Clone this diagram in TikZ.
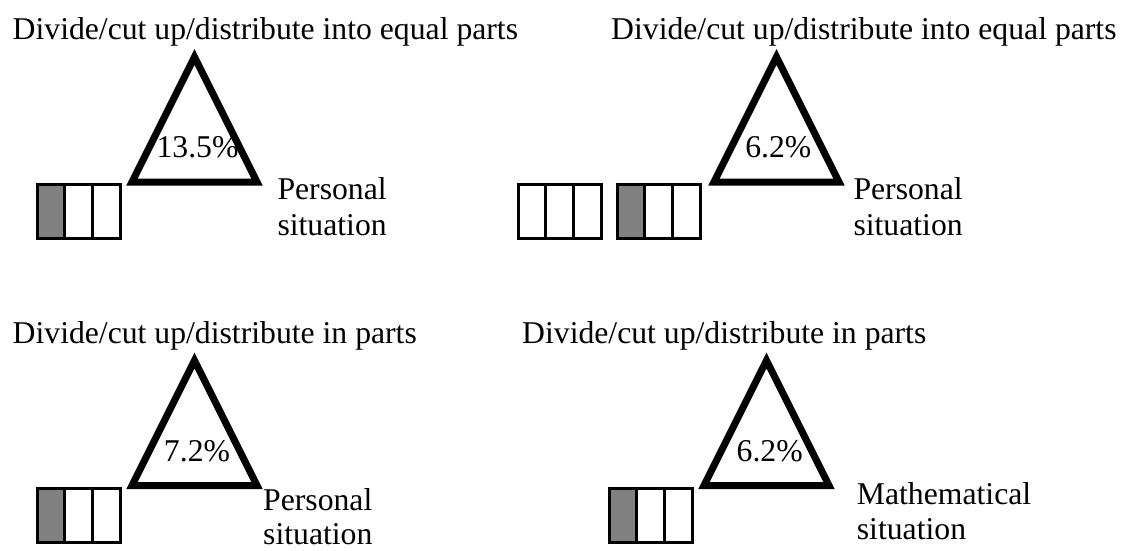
\documentclass[tikz,border=0pt]{standalone}
\usepackage{fontspec}
\setmainfont{Liberation Serif}
\definecolor{barfill}{HTML}{808080}
\begin{document}
\begin{tikzpicture}[x=1pt,y=-1pt,
  txt/.style={inner sep=0pt, anchor=base west, font=\fontsize{31.7}{35.7}\selectfont},
  pct/.style={inner sep=0pt, anchor=base, font=\fontsize{31.7}{35.7}\selectfont},
  tri/.pic={\draw[line width=7pt, line join=miter] (0,0) -- (62.5,125) -- (-62.5,125) -- cycle;},
  bar/.pic={\draw[line width=3pt] (0,0) rectangle (83,54)
      (27.67,0) -- (27.67,54) (55.33,0) -- (55.33,54);},
  shadedbar/.pic={\fill[barfill] (0,0) rectangle (27.67,54);
    \draw[line width=3pt] (0,0) rectangle (83,54)
      (27.67,0) -- (27.67,54) (55.33,0) -- (55.33,54);}
]
\useasboundingbox[fill=white] (0,0) rectangle (1121,551);

% top left
\node[txt] (t1) at (12.5,40) {Divide/cut up/distribute into equal parts};
\pic (tr1) at (194.5,57) {tri};
\pic (b1) at (37,184) {shadedbar};
\node[pct] (p1) at (197.5,157.3) {13.5\%};
\node[txt] (s1a) at (277.3,199.5) {Personal};
\node[txt] (s1b) at (277.3,235.2) {situation};

% top right
\node[txt] (t2) at (611,40) {Divide/cut up/distribute into equal parts};
\pic (tr2) at (776.5,57) {tri};
\pic (b2a) at (518,184) {bar};
\pic (b2b) at (617,184) {shadedbar};
\node[pct] (p2) at (778.3,157.3) {6.2\%};
\node[txt] (s2a) at (853.3,199.5) {Personal};
\node[txt] (s2b) at (853.3,235.2) {situation};

% bottom left
\node[txt] (t3) at (12.5,343.5) {Divide/cut up/distribute in parts};
\pic (tr3) at (194.5,360.5) {tri};
\pic (b3) at (37,488) {shadedbar};
\node[pct] (p3) at (197,461.7) {7.2\%};
\node[txt] (s3a) at (263,510.5) {Personal};
\node[txt] (s3b) at (263,544.5) {situation};

% bottom right
\node[txt] (t4) at (522,343.5) {Divide/cut up/distribute in parts};
\pic (tr4) at (766.5,360.5) {tri};
\pic (b4) at (609,488) {shadedbar};
\node[pct] (p4) at (769.7,461.7) {6.2\%};
\node[txt] (s4a) at (856.7,504) {Mathematical};
\node[txt] (s4b) at (856.7,539.7) {situation};
\end{tikzpicture}
\end{document}
